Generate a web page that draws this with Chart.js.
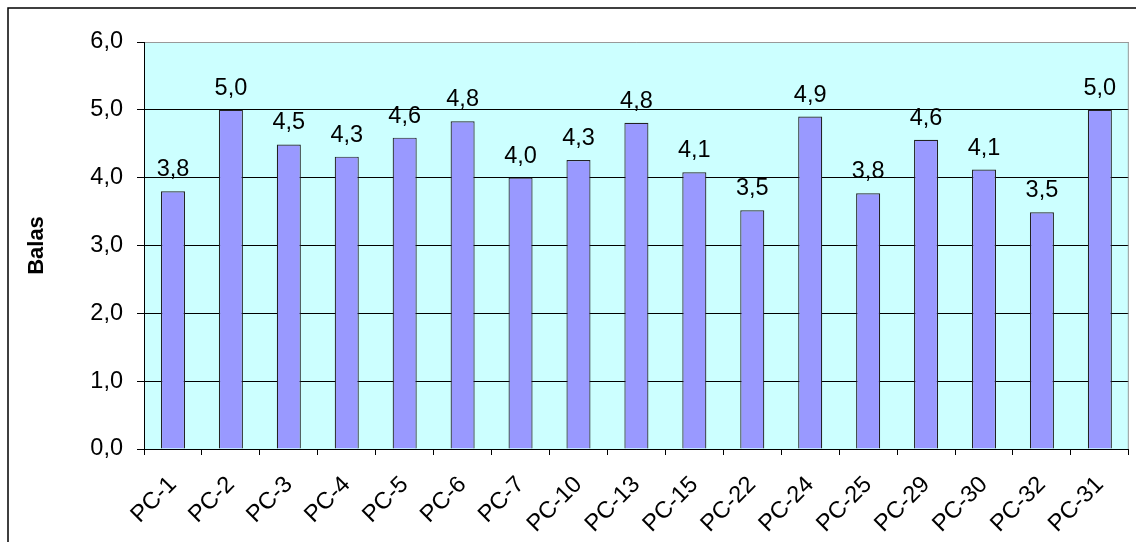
<!DOCTYPE html>
<html>
<head>
<meta charset="utf-8">
<script src="https://cdn.jsdelivr.net/npm/chart.js@4/dist/chart.umd.min.js"></script>
<style>
  html, body { margin: 0; padding: 0; background: #ffffff; }
  #wrap { width: 1136px; height: 542px; position: relative; }
</style>
</head>
<body>
<div id="wrap"><canvas id="chart" width="1136" height="542"></canvas></div>
<script>
// Categories and scores per PC
const categories = ['PC-1', 'PC-2', 'PC-3', 'PC-4', 'PC-5', 'PC-6', 'PC-7', 'PC-10', 'PC-13',
  'PC-15', 'PC-22', 'PC-24', 'PC-25', 'PC-29', 'PC-30', 'PC-32', 'PC-31'];
const scores = [3.80, 5.00, 4.49, 4.31, 4.59, 4.83, 4.00, 4.26, 4.81,
  4.08, 3.52, 4.90, 3.77, 4.56, 4.12, 3.49, 5.00];
const yTicks = [0, 1, 2, 3, 4, 5, 6];
const yTitle = 'Balas';

const FONT = "'Liberation Sans', Arial, sans-serif";
const FONT_SIZE = 23.5;
const fmt = v => Number(v).toFixed(1).replace('.', ',');

// Page frame, plot background and plot outline
const framePlugin = {
  id: 'frame',
  beforeDraw(chart) {
    const { ctx, chartArea: a } = chart;
    ctx.save();
    ctx.fillStyle = '#ffffff';
    ctx.fillRect(0, 0, chart.width, chart.height);
    ctx.strokeStyle = '#000000';
    ctx.lineWidth = 1.5;
    ctx.strokeRect(8, 8, chart.width + 20, chart.height + 20);
    ctx.fillStyle = '#ccffff';
    ctx.fillRect(a.left, a.top, a.right - a.left, a.bottom - a.top);
    ctx.restore();
  },
  afterDatasetsDraw(chart) {
    const { ctx, chartArea: a } = chart;
    ctx.save();
    ctx.strokeStyle = '#999999';
    ctx.lineWidth = 1;
    ctx.beginPath();
    ctx.moveTo(a.right - 0.5, a.top);
    ctx.lineTo(a.right - 0.5, a.bottom);
    ctx.stroke();
    // value labels above each bar
    const meta = chart.getDatasetMeta(0);
    ctx.fillStyle = '#000000';
    ctx.font = FONT_SIZE + 'px ' + FONT;
    ctx.textAlign = 'center';
    ctx.textBaseline = 'alphabetic';
    meta.data.forEach((bar, i) => {
      const v = chart.data.datasets[0].data[i];
      ctx.fillText(fmt(v), bar.x, bar.y - 15);
    });
    ctx.restore();
  }
};

new Chart(document.getElementById('chart'), {
  type: 'bar',
  data: {
    labels: categories,
    datasets: [{
      data: scores,
      backgroundColor: '#9999ff',
      borderColor: '#222222',
      borderWidth: 1.2,
      borderSkipped: 'bottom',
      categoryPercentage: 1.0,
      barPercentage: 0.415
    }]
  },
  options: {
    responsive: false,
    animation: false,
    events: [],
    layout: { padding: { top: 42, right: 7, left: 0, bottom: 0 } },
    plugins: {
      legend: { display: false },
      tooltip: { enabled: false },
      title: { display: false }
    },
    scales: {
      x: {
        offset: true,
        grid: {
          offset: true,
          drawOnChartArea: false,
          drawTicks: true,
          tickLength: 6,
          color: '#000000'
        },
        border: { display: true, color: '#000000', width: 1 },
        ticks: {
          color: '#000000',
          font: { family: FONT, size: FONT_SIZE },
          minRotation: 45,
          maxRotation: 45,
          autoSkip: false,
          padding: 16
        },
        afterFit(scale) { scale.height = 93; }
      },
      y: {
        min: 0,
        max: 6,
        afterBuildTicks(scale) { scale.ticks = yTicks.map(v => ({ value: v })); },
        grid: {
          color: ctx => (ctx.tick && ctx.tick.value === 6) ? '#999999' : '#000000',
          lineWidth: 1,
          drawTicks: true,
          tickLength: 7,
          tickColor: '#000000'
        },
        border: { display: true, color: '#000000', width: 1 },
        ticks: {
          color: '#000000',
          font: { family: FONT, size: FONT_SIZE },
          padding: 14,
          callback: v => fmt(v)
        },
        title: {
          display: true,
          text: yTitle,
          color: '#000000',
          font: { family: FONT, size: 22, weight: 'bold' },
          padding: { top: 24, bottom: 0 }
        },
        afterFit(scale) { scale.width = 144; }
      }
    }
  },
  plugins: [framePlugin]
});
</script>
</body>
</html>
